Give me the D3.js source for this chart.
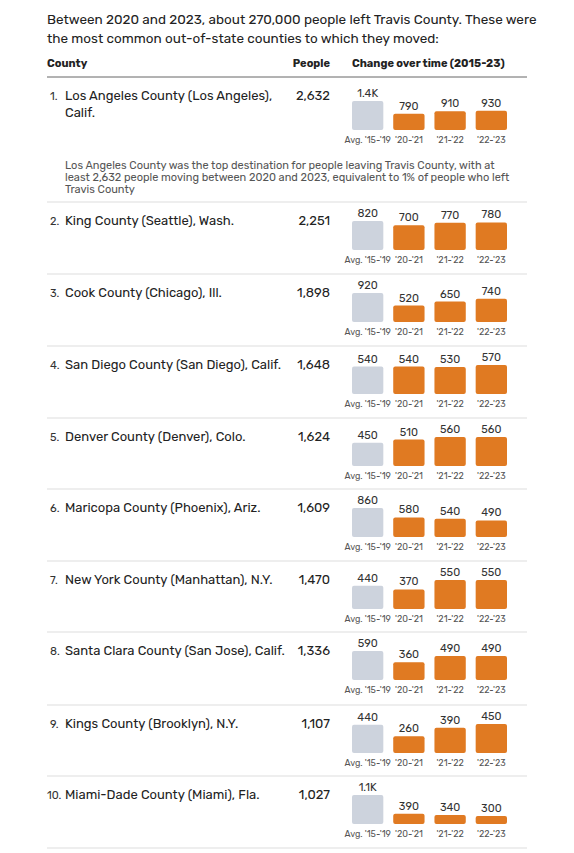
<!DOCTYPE html><html><head><meta charset="utf-8"><script src="https://cdn.jsdelivr.net/npm/d3@7"></script>
<style>body{margin:0;background:#fff;font-family:Rubik,"Open Sans","Noto Sans",sans-serif}</style></head><body><svg id="c" width="574" height="853"></svg>
<script>
const counties=["Los Angeles County (Los Angeles),","King County (Seattle), Wash.","Cook County (Chicago), Ill.","San Diego County (San Diego), Calif.","Denver County (Denver), Colo.","Maricopa County (Phoenix), Ariz.","New York County (Manhattan), N.Y.","Santa Clara County (San Jose), Calif.","Kings County (Brooklyn), N.Y.","Miami-Dade County (Miami), Fla."];
const people=[2632,2251,1898,1648,1624,1609,1470,1336,1107,1027];
const periods=["Avg. '15-'19","'20-'21","'21-'22","'22-'23"];
const values=[[1400,790,910,930],[820,700,770,780],[920,520,650,740],[540,540,530,570],[450,510,560,560],[860,580,540,490],[440,370,550,550],[590,360,490,490],[440,260,390,450],[1100,390,340,300]];
const rowTops=[77,202,274,346,418,489,561,632,705,776];
const svg=d3.select("#c");
const fmt=v=>v>=1000?d3.format(".2~s")(v).replace("k","K"):v;
svg.append("text").attr("x",47).attr("y",24).attr("font-size",13.5).attr("fill","#222").text("Between 2020 and 2023, about 270,000 people left Travis County. These were");
svg.append("text").attr("x",47).attr("y",43).attr("font-size",13.5).attr("fill","#222").text("the most common out-of-state counties to which they moved:");
const h=svg.append("g").attr("font-size",11).attr("font-weight","bold").attr("fill","#222");
h.append("text").attr("x",47).attr("y",67).text("County");
h.append("text").attr("x",330).attr("y",67).attr("text-anchor","end").text("People");
h.append("text").attr("x",352).attr("y",67).text("Change over time (2015-23)");
svg.append("line").attr("x1",47).attr("x2",527).attr("y1",77).attr("y2",77).attr("stroke","#666");
const x=d3.scaleBand().domain(periods).range([352,507]).paddingInner(0.24);
counties.forEach((c,i)=>{
  const top=rowTops[i], base=top+(i==0?53:48);
  if(i>0) svg.append("line").attr("x1",47).attr("x2",527).attr("y1",top).attr("y2",top).attr("stroke","#ddd");
  const g=svg.append("g");
  g.append("text").attr("x",i==9?47:50).attr("y",top+23).attr("font-size",11).attr("fill","#333").text((i+1)+".");
  g.append("text").attr("x",65).attr("y",top+23).attr("font-size",13).attr("fill","#222").text(c);
  if(i==0) g.append("text").attr("x",65).attr("y",top+40).attr("font-size",13).attr("fill","#222").text("Calif.");
  g.append("text").attr("x",330).attr("y",top+23).attr("text-anchor","end").attr("font-size",13).attr("fill","#222").text(d3.format(",")(people[i]));
  const y=d3.scaleLinear().domain([0,d3.max(values[i])]).range([0,29]);
  const clip="cl"+i;
  svg.append("clipPath").attr("id",clip).append("rect").attr("x",340).attr("y",top+1).attr("width",200).attr("height",70);
  const bg=g.append("g").attr("clip-path",`url(#${clip})`);
  values[i].forEach((v,j)=>{
    bg.append("rect").attr("x",x(periods[j])).attr("y",base-y(v)).attr("width",x.bandwidth()).attr("height",y(v)).attr("rx",2).attr("fill",j==0?"#cdd3dd":"#e07a22");
    bg.append("text").attr("x",x(periods[j])+x.bandwidth()/2).attr("y",base-y(v)-4).attr("text-anchor","middle").attr("font-size",11).attr("fill","#333").text(fmt(v));
    bg.append("text").attr("x",x(periods[j])+x.bandwidth()/2).attr("y",base+13).attr("text-anchor","middle").attr("font-size",9).attr("fill","#555").text(periods[j]);
  });
});
const note=["Los Angeles County was the top destination for people leaving Travis County, with at","least 2,632 people moving between 2020 and 2023, equivalent to 1% of people who left","Travis County"];
note.forEach((t,k)=>svg.append("text").attr("x",65).attr("y",169+k*12).attr("font-size",11).attr("fill","#555").text(t));
svg.append("line").attr("x1",47).attr("x2",527).attr("y1",848).attr("y2",848).attr("stroke","#ddd");
</script></body></html>
